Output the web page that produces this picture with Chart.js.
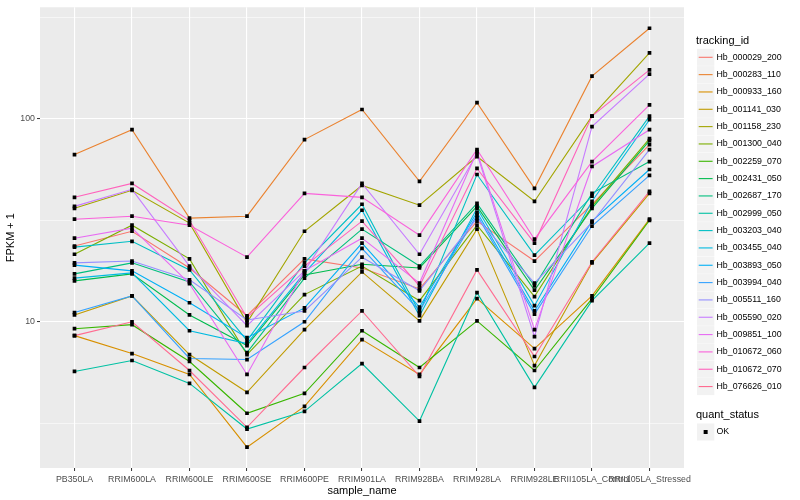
<!DOCTYPE html>
<html><head><meta charset="utf-8">
<script src="https://cdn.jsdelivr.net/npm/chart.js@4/dist/chart.umd.min.js"></script>
<style>html,body{margin:0;padding:0;background:#fff;}#wrap{width:800px;height:500px;}</style>
</head><body><div id="wrap"><canvas id="c" width="800" height="500"></canvas></div>
<script>
const categories = ["PB350LA","RRIM600LA","RRIM600LE","RRIM600SE","RRIM600PE","RRIM901LA","RRIM928BA","RRIM928LA","RRIM928LE","RRII105LA_Control","RRII105LA_Stressed"];
const trackingIds = ["Hb_000029_200","Hb_000283_110","Hb_000933_160","Hb_001141_030","Hb_001158_230","Hb_001300_040","Hb_002259_070","Hb_002431_050","Hb_002687_170","Hb_002999_050","Hb_003203_040","Hb_003455_040","Hb_003893_050","Hb_003994_040","Hb_005511_160","Hb_005590_020","Hb_009851_100","Hb_010672_060","Hb_010672_070","Hb_076626_010"];
const seriesColors = ["#F8766D","#EA8331","#D89000","#C09B00","#A3A500","#7CAE00","#39B600","#00BB4E","#00BF7D","#00C1A3","#00BFC4","#00BAE0","#00B0F6","#35A2FF","#9590FF","#C77CFF","#E76BF3","#FA62DB","#FF62BC","#FF6C91"];
const yTickValues = [10, 100];
const yMinorValues = [3.1623, 31.623, 316.23];

const hb_000029_200 = [23.6, 27.9, 18.4, 10.7, 20.4, 18.4, 14.5, 31.3, 19.9, 37.9, 74.6];
const hb_000283_110 = [66.6, 88.3, 32.4, 33.1, 78.9, 111, 49.1, 120, 45.4, 162, 279];
const hb_000933_160 = [8.54, 6.97, 5.50, 2.41, 3.83, 8.16, 5.50, 13.0, 7.37, 13.4, 32.0];
const hb_001141_030 = [10.8, 13.4, 6.89, 4.49, 9.14, 17.6, 10.1, 28.6, 6.08, 19.5, 42.9];
const hb_001158_230 = [36.2, 44.4, 30.6, 9.9, 27.9, 46.9, 37.5, 65.1, 39.2, 103, 211];
const hb_001300_040 = [21.5, 29.9, 20.4, 6.89, 13.6, 18.8, 12.7, 29.9, 13.3, 37.0, 79.8];
const hb_002259_070 = [9.24, 9.67, 6.37, 3.54, 4.44, 9.03, 5.95, 10.1, 5.75, 13.0, 31.6];
const hb_002431_050 = [15.9, 17.2, 10.8, 7.63, 17.0, 19.2, 18.4, 37.0, 14.3, 36.2, 78.0];
const hb_002687_170 = [17.2, 19.5, 15.7, 7.05, 16.4, 28.6, 18.8, 38.3, 15.0, 42.9, 61.5];
const hb_002999_050 = [5.69, 6.44, 4.97, 2.96, 3.62, 6.22, 3.24, 13.9, 4.75, 12.7, 24.4];
const hb_003203_040 = [23.3, 24.9, 18.0, 8.07, 19.5, 37.9, 11.1, 53.1, 21.3, 41.5, 103];
const hb_003455_040 = [16.4, 17.4, 9.03, 7.80, 17.4, 35.4, 10.7, 36.2, 12.0, 39.2, 98.9];
const hb_003893_050 = [19.0, 17.8, 12.4, 8.35, 11.7, 24.4, 11.8, 34.6, 11.3, 31.3, 56.2];
const hb_003994_040 = [11.1, 13.4, 6.59, 6.51, 10.0, 23.0, 11.3, 33.5, 10.9, 29.6, 52.6];
const hb_005511_160 = [19.5, 19.9, 16.1, 10.2, 11.3, 20.8, 14.2, 32.4, 15.5, 30.9, 70.5];
const hb_005590_020 = [37.0, 44.9, 18.8, 9.56, 17.8, 48.0, 21.5, 67.4, 8.44, 91.4, 166];
const hb_009851_100 = [25.8, 28.9, 15.4, 5.50, 17.8, 25.8, 15.5, 68.9, 9.14, 58.2, 88.3];
const hb_010672_060 = [32.0, 33.1, 29.9, 20.8, 42.9, 41.0, 26.7, 70.5, 25.5, 61.5, 117];
const hb_010672_070 = [41.0, 48.0, 31.6, 10.5, 18.8, 31.3, 15.0, 56.9, 24.4, 103, 174];
const hb_076626_010 = [8.54, 10.0, 5.75, 3.02, 5.95, 11.3, 5.38, 18.0, 6.74, 19.7, 43.9];

const seriesValues = [hb_000029_200, hb_000283_110, hb_000933_160, hb_001141_030, hb_001158_230, hb_001300_040, hb_002259_070, hb_002431_050, hb_002687_170, hb_002999_050, hb_003203_040, hb_003455_040, hb_003893_050, hb_003994_040, hb_005511_160, hb_005590_020, hb_009851_100, hb_010672_060, hb_010672_070, hb_076626_010];

const FONT = '"Liberation Sans", Arial, sans-serif';
Chart.defaults.font.family = FONT;

const lineDatasets = trackingIds.map((id, i) => ({
  type: 'line', label: id,
  data: seriesValues[i].map((v, j) => ({x: j, y: v})),
  borderColor: seriesColors[i], backgroundColor: seriesColors[i],
  borderWidth: 1.1, pointRadius: 0, fill: false, tension: 0, order: 100 - i
}));
const pointData = [];
seriesValues.forEach(arr => arr.forEach((v, j) => pointData.push({x: j, y: v})));
const pointDataset = {
  type: 'scatter', label: 'OK', data: pointData, showLine: false,
  pointStyle: 'rect', pointRadius: 2.6, backgroundColor: '#000000', borderWidth: 0, order: 0
};

const panelBg = {
  id: 'panelBg',
  beforeDraw(chart) {
    const a = chart.chartArea, ctx = chart.ctx;
    ctx.save(); ctx.fillStyle = '#EBEBEB';
    ctx.fillRect(a.left, a.top, a.right - a.left, a.bottom - a.top);
    ctx.restore();
  }
};

const ggLegend = {
  id: 'ggLegend',
  afterDraw(chart) {
    const ctx = chart.ctx;
    ctx.save();
    ctx.textBaseline = 'middle'; ctx.textAlign = 'left';
    ctx.fillStyle = '#000'; ctx.font = '11px ' + FONT;
    ctx.fillText('tracking_id', 696, 40.5);
    const x0 = 697, kw = 17.3, step = 17.33;
    trackingIds.forEach((id, i) => {
      const cy = 57.3 + i * step;
      ctx.fillStyle = '#F2F2F2';
      ctx.fillRect(x0, cy - 8.5, kw, 17);
      ctx.strokeStyle = seriesColors[i]; ctx.lineWidth = 1.1;
      ctx.beginPath(); ctx.moveTo(x0 + 1.7, cy); ctx.lineTo(x0 + kw - 1.7, cy); ctx.stroke();
      ctx.fillStyle = '#000'; ctx.font = '8.8px ' + FONT;
      ctx.fillText(id, 716.5, cy);
    });
    ctx.font = '11px ' + FONT;
    ctx.fillText('quant_status', 696, 414.5);
    const cy2 = 432;
    ctx.fillStyle = '#F2F2F2';
    ctx.fillRect(x0, cy2 - 8.5, kw, 17);
    ctx.fillStyle = '#000';
    ctx.fillRect(x0 + kw / 2 - 2, cy2 - 2, 4, 4);
    ctx.font = '8.8px ' + FONT;
    ctx.fillText('OK', 716.5, cy2);
    ctx.restore();
  }
};

new Chart(document.getElementById('c'), {
  type: 'line',
  data: { datasets: [pointDataset, ...lineDatasets] },
  options: {
    responsive: false, animation: false, devicePixelRatio: 1,
    layout: { padding: { top: 5, right: 116, left: 0, bottom: 0 } },
    plugins: { legend: { display: false }, tooltip: { enabled: false } },
    scales: {
      x: {
        type: 'linear', min: -0.6, max: categories.length - 1 + 0.6,
        afterBuildTicks: s => { s.ticks = categories.map((c, i) => ({ value: i })); },
        afterFit: s => { s.height = 32; },
        ticks: { autoSkip: false, maxRotation: 0, minRotation: 0, padding: 3, color: '#4D4D4D',
          font: { size: 8.8 }, callback: v => categories[v] !== undefined ? categories[v] : '' },
        grid: { color: '#FFFFFF', lineWidth: 1.1, tickColor: '#333333', tickLength: 3, tickWidth: 1 },
        border: { display: false },
        title: { display: true, text: 'sample_name', color: '#000', font: { size: 11 }, padding: { top: 0, bottom: 2 } }
      },
      y: {
        type: 'logarithmic', min: 1.903, max: 354, bounds: 'data',
        afterBuildTicks: s => { s.ticks = [...yMinorValues, ...yTickValues].sort((a, b) => a - b).map(v => ({ value: v })); },
        afterFit: s => { s.width = 40; },
        ticks: { color: '#4D4D4D', font: { size: 8.8 }, padding: 2,
          callback: v => yTickValues.includes(v) ? String(v) : '' },
        grid: { color: '#FFFFFF',
          lineWidth: c => (c.tick && yTickValues.includes(c.tick.value)) ? 1.1 : 0.55,
          tickColor: c => (c.tick && yTickValues.includes(c.tick.value)) ? '#333333' : 'rgba(0,0,0,0)',
          tickLength: 3, tickWidth: 1 },
        border: { display: false },
        title: { display: true, text: 'FPKM + 1', color: '#000', font: { size: 11 }, padding: { top: 4, bottom: 0 } }
      }
    }
  },
  plugins: [panelBg, ggLegend]
});
</script>
</body></html>
